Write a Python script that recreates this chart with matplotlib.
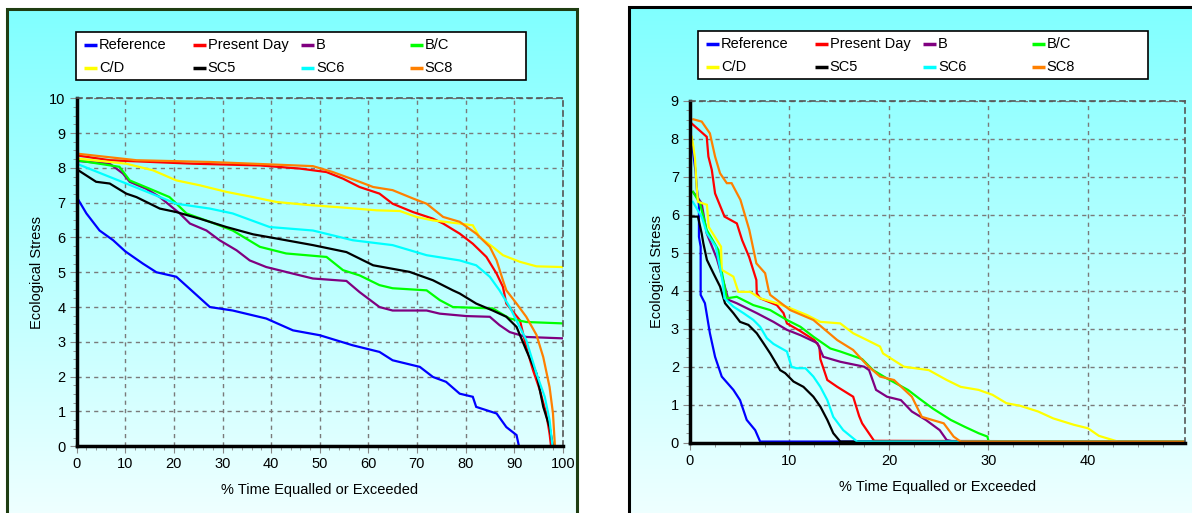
import numpy as np
import matplotlib
matplotlib.use("Agg")
import matplotlib.pyplot as plt
from matplotlib.colors import LinearSegmentedColormap
from matplotlib.patches import Rectangle
from matplotlib.lines import Line2D
from matplotlib.ticker import MultipleLocator

plt.rcParams['font.family'] = ['Liberation Sans', 'DejaVu Sans']

names = ['Reference', 'Present Day', 'B', 'B/C', 'C/D', 'SC5', 'SC6', 'SC8']
colors = ['#0000FF', '#FF0000', '#800080', '#00FF00', '#FFFF00', '#000000', '#00FFFF', '#FF8000']

# ---- left chart: full record (0-100 %)
ref_x = [0, 2, 4.7, 7.5, 10, 13.6, 16.4, 20.5, 23.6, 27.4, 32.1, 39, 44.5, 50, 56.8, 62.3, 65, 70.6, 73.3, 76, 78.8, 81.5, 82.2, 86.4, 88.4, 90.5, 91]
ref_y = [7.16, 6.69, 6.2, 5.92, 5.6, 5.25, 5.0, 4.87, 4.48, 4.0, 3.9, 3.67, 3.33, 3.19, 2.9, 2.71, 2.47, 2.28, 1.99, 1.85, 1.51, 1.42, 1.13, 0.94, 0.55, 0.32, 0]
pd_x = [0, 6.8, 23.9, 37.7, 45.9, 51.4, 54.8, 58.2, 62.3, 65, 69.2, 73.3, 75.4, 78.8, 81.5, 84.3, 86.4, 87.7, 88.4, 91.2, 92.5, 93.9, 95.3, 96.6, 97.3, 97.6]
pd_y = [8.36, 8.22, 8.12, 8.07, 7.98, 7.88, 7.69, 7.45, 7.26, 6.97, 6.73, 6.54, 6.4, 6.11, 5.82, 5.44, 4.96, 4.58, 4.1, 3.62, 2.85, 2.18, 1.61, 0.94, 0.36, 0]
b_x = [0, 6.8, 9.5, 10.9, 14.3, 17.1, 21.2, 23.3, 26.7, 29.4, 32.9, 35.6, 39, 44.5, 48.6, 55.5, 58.2, 62.3, 65, 72, 74.7, 80.2, 85, 87, 89.1, 92.5, 100]
b_y = [8.2, 8.12, 7.84, 7.6, 7.4, 7.16, 6.69, 6.4, 6.2, 5.92, 5.63, 5.34, 5.15, 4.96, 4.82, 4.75, 4.43, 4.0, 3.9, 3.9, 3.81, 3.74, 3.72, 3.48, 3.28, 3.14, 3.1]
bc_x = [0, 8.8, 10.9, 15.7, 19.1, 22.6, 27.4, 32.1, 37.7, 43.1, 51.4, 54.8, 58.2, 62.3, 65, 72, 74.7, 77.4, 85.6, 89.1, 92.5, 100]
bc_y = [8.22, 8.03, 7.64, 7.36, 7.16, 6.69, 6.45, 6.2, 5.73, 5.54, 5.44, 5.06, 4.91, 4.63, 4.54, 4.48, 4.2, 4.0, 3.96, 3.67, 3.57, 3.53]
cd_x = [0, 10.2, 15.7, 20.5, 25.3, 30.8, 36.3, 41.1, 47.9, 54.8, 61.7, 66.5, 69.9, 73.3, 78.8, 81.5, 82.9, 85.6, 87.7, 91.2, 94.6, 100]
cd_y = [8.27, 8.12, 7.93, 7.64, 7.5, 7.31, 7.16, 7.02, 6.93, 6.86, 6.78, 6.76, 6.59, 6.49, 6.4, 6.35, 6.01, 5.73, 5.49, 5.3, 5.17, 5.15]
sc5_x = [0, 4.0, 6.8, 10.2, 12.3, 17.1, 20.5, 25.3, 30.8, 36.3, 41.1, 48.6, 55.5, 61, 68.5, 73.3, 77.4, 78.8, 82.2, 85.6, 88.4, 90.5, 92.5, 94.6, 96, 97.3, 98]
sc5_y = [7.96, 7.6, 7.55, 7.26, 7.16, 6.83, 6.73, 6.54, 6.3, 6.09, 5.97, 5.78, 5.58, 5.2, 5.01, 4.77, 4.48, 4.39, 4.1, 3.9, 3.72, 3.43, 2.76, 2.09, 1.13, 0.55, 0]
sc6_x = [0, 6.8, 13.6, 20.5, 27.4, 32.1, 39.7, 48.6, 56.8, 65, 72, 78.8, 82.2, 85, 87, 89.1, 92.5, 94.6, 96.3, 97.3, 97.9]
sc6_y = [8.12, 7.74, 7.36, 6.97, 6.83, 6.69, 6.3, 6.2, 5.92, 5.78, 5.49, 5.34, 5.2, 4.87, 4.48, 4.0, 3.05, 2.09, 1.42, 0.75, 0]
sc8_x = [0, 12.3, 27.4, 48.6, 52.7, 58.2, 61, 65, 69.2, 72, 75.4, 78.8, 82.2, 85, 86.4, 87.7, 88.4, 90.5, 92.5, 94.6, 96, 97.3, 98, 98.4]
sc8_y = [8.41, 8.22, 8.17, 8.05, 7.88, 7.6, 7.45, 7.36, 7.12, 6.97, 6.59, 6.45, 6.11, 5.73, 5.34, 4.77, 4.48, 4.1, 3.72, 3.2, 2.56, 1.7, 0.94, 0]

# ---- right chart: zoom on 0-50 %
ref2_x = [0.2, 0.35, 0.56, 0.7, 0.9, 0.9, 1.07, 1.07, 1.5, 2.0, 2.52, 3.19, 4.36, 5.03, 5.7, 6.55, 7.05, 49.7]
ref2_y = [7.9, 7.57, 7.13, 6.65, 6.26, 5.42, 5.16, 3.89, 3.67, 2.88, 2.26, 1.74, 1.39, 1.12, 0.6, 0.33, 0.03, 0.03]
pd2_x = [0.17, 1.68, 1.85, 2.19, 2.52, 3.47, 4.71, 5.24, 5.94, 6.67, 6.71, 7.05, 8.73, 9.4, 9.74, 11.0, 12.5, 13.0, 13.1, 13.8, 14.8, 16.4, 17.0, 17.3, 18.5, 49.7]
pd2_y = [8.4, 8.05, 7.53, 7.18, 6.56, 5.95, 5.77, 5.33, 4.89, 4.28, 3.93, 3.8, 3.62, 3.41, 3.14, 2.95, 2.7, 2.53, 2.2, 1.65, 1.47, 1.21, 0.7, 0.51, 0.05, 0.03]
b2_x = [0.3, 0.9, 1.17, 1.68, 2.69, 3.3, 3.86, 4.7, 6.71, 8.39, 9.74, 11.1, 12.8, 13.4, 15.1, 17.5, 18.0, 18.7, 19.8, 21.2, 22.3, 23.7, 25.1, 25.8, 26.5, 49.7]
b2_y = [6.6, 6.4, 6.3, 5.51, 4.85, 4.3, 3.76, 3.67, 3.41, 3.18, 2.97, 2.83, 2.62, 2.26, 2.13, 2.0, 1.91, 1.39, 1.21, 1.12, 0.82, 0.6, 0.33, 0.07, 0.03, 0.03]
bc2_x = [0.3, 1.0, 1.68, 2.85, 3.19, 3.7, 4.7, 6.37, 8.06, 9.74, 11.1, 12.4, 14.1, 15.1, 17.3, 18.4, 19.8, 21.9, 23.0, 24.4, 26.2, 27.6, 29.0, 29.9, 30.0, 49.7]
bc2_y = [6.6, 6.3, 5.6, 5.07, 4.5, 3.8, 3.84, 3.62, 3.49, 3.23, 3.05, 2.79, 2.48, 2.4, 2.2, 1.91, 1.69, 1.39, 1.17, 0.9, 0.6, 0.42, 0.25, 0.16, 0.03, 0.03]
cd2_x = [0.17, 0.34, 0.5, 0.67, 0.8, 1.7, 1.88, 3.02, 3.12, 3.19, 4.36, 4.86, 6.04, 7.05, 8.73, 10.07, 11.75, 13.1, 15.1, 16.4, 17.8, 19.1, 19.4, 21.5, 24.0, 25.8, 27.2, 29.0, 30.4, 31.8, 33.2, 35.0, 36.5, 38.6, 40.0, 41.1, 43.0, 49.7]
cd2_y = [8.05, 7.79, 7.48, 6.74, 6.34, 6.26, 5.68, 5.2, 5.16, 4.55, 4.37, 3.97, 3.97, 3.8, 3.67, 3.54, 3.36, 3.18, 3.14, 2.88, 2.7, 2.53, 2.35, 2.0, 1.91, 1.65, 1.47, 1.39, 1.26, 1.04, 0.97, 0.82, 0.64, 0.47, 0.38, 0.18, 0.03, 0.03]
sc52_x = [0.2, 0.8, 1.17, 1.34, 1.7, 2.35, 3.02, 3.52, 4.36, 5.03, 5.87, 6.71, 7.38, 8.06, 9.06, 9.57, 10.4, 11.4, 12.4, 13.1, 13.8, 14.4, 15.1, 49.7]
sc52_y = [5.95, 5.95, 5.51, 5.25, 4.81, 4.46, 4.11, 3.67, 3.41, 3.18, 3.1, 2.88, 2.62, 2.35, 1.91, 1.83, 1.61, 1.47, 1.21, 0.95, 0.6, 0.25, 0.03, 0.03]
sc62_x = [0.28, 1.17, 1.7, 2.59, 3.02, 3.3, 3.47, 4.36, 5.37, 6.37, 7.05, 7.72, 8.39, 9.06, 9.74, 10.2, 10.7, 11.6, 12.4, 13.1, 13.8, 14.4, 15.4, 16.8, 49.7]
sc62_y = [6.34, 5.95, 5.51, 5.16, 4.6, 4.2, 3.8, 3.58, 3.41, 3.23, 3.05, 2.75, 2.6, 2.5, 2.4, 2.0, 1.96, 1.96, 1.74, 1.47, 1.12, 0.68, 0.33, 0.03, 0.03]
sc82_x = [0.34, 1.18, 2.0, 2.52, 3.02, 3.7, 4.18, 5.07, 5.96, 6.67, 7.55, 7.9, 8.06, 10.07, 12.4, 14.8, 16.4, 17.8, 19.1, 20.5, 22.3, 23.3, 25.5, 26.5, 27.2, 49.7]
sc82_y = [8.51, 8.45, 8.14, 7.53, 7.09, 6.83, 6.83, 6.39, 5.6, 4.72, 4.46, 4.02, 3.89, 3.49, 3.23, 2.7, 2.44, 2.04, 1.74, 1.65, 1.21, 0.68, 0.51, 0.16, 0.03, 0.03]

left_series = [(ref_x, ref_y), (pd_x, pd_y), (b_x, b_y), (bc_x, bc_y),
               (cd_x, cd_y), (sc5_x, sc5_y), (sc6_x, sc6_y), (sc8_x, sc8_y)]
right_series = [(ref2_x, ref2_y), (pd2_x, pd2_y), (b2_x, b2_y), (bc2_x, bc2_y),
                (cd2_x, cd2_y), (sc52_x, sc52_y), (sc62_x, sc62_y), (sc82_x, sc82_y)]

W, H = 1192, 513
fig = plt.figure(figsize=(W / 100, H / 100), dpi=100)
fig.patch.set_facecolor('white')

grad = LinearSegmentedColormap.from_list('bg', ['#F2FFFF', '#80FFFF'])


def px_rect(x0, y0, x1, y1):
    # pixel box (top-left origin) -> figure fraction [l, b, w, h]
    return [x0 / W, 1 - y1 / H, (x1 - x0) / W, (y1 - y0) / H]


def panel(box, edge):
    bg = fig.add_axes(px_rect(*box), zorder=0)
    bg.imshow(np.linspace(0, 1, 256).reshape(-1, 1)[::-1], aspect='auto',
              cmap=grad, extent=[0, 1, 0, 1])
    bg.set_axis_off()
    bg.add_patch(Rectangle((0, 0), 1, 1, transform=bg.transAxes, fill=False,
                           edgecolor=edge, linewidth=2.2, clip_on=False))


def legend_box(x0, y0):
    fig.add_artist(Rectangle((x0 / W, 1 - (y0 + 48) / H), 450 / W, 48 / H,
                             transform=fig.transFigure, facecolor='white',
                             edgecolor='black', linewidth=1.2, zorder=5))
    for i, (nm, c) in enumerate(zip(names, colors)):
        col, row = i % 4, i // 4
        hx = x0 + 8 + col * 108.5
        hy = y0 + 13 + row * 23
        fig.add_artist(Line2D([hx / W, (hx + 13) / W], [1 - hy / H, 1 - hy / H],
                              transform=fig.transFigure, color=c, linewidth=2.5,
                              solid_capstyle='butt', zorder=6))
        fig.text((hx + 15) / W, 1 - hy / H, nm, fontsize=10.5, va='center',
                 ha='left', zorder=6)


def chart(box, series, xmax, xmin_step, ymax, xlab_y, ylab_x):
    ax = fig.add_axes(px_rect(*box), zorder=2)
    ax.set_facecolor('none')
    for (xs, ys), c in zip(series, colors):
        ax.plot(xs, ys, color=c, linewidth=1.6, solid_joinstyle='miter')
    ax.set_xlim(0, xmax)
    ax.set_ylim(0, ymax)
    ax.xaxis.set_major_locator(MultipleLocator(10))
    ax.xaxis.set_minor_locator(MultipleLocator(xmin_step))
    ax.yaxis.set_major_locator(MultipleLocator(1))
    ax.yaxis.set_minor_locator(MultipleLocator(0.25))
    ax.grid(True, which='major', color='#7a7a7a', linestyle=(0, (3, 3)), linewidth=1)
    ax.tick_params(which='major', direction='out', length=5, color='#888888',
                   labelsize=10.5, pad=3)
    ax.tick_params(which='minor', direction='out', length=3, color='#888888')
    for s in ('left', 'bottom'):
        ax.spines[s].set_linewidth(2.5)
        ax.spines[s].set_color('black')
    for s in ('top', 'right'):
        ax.spines[s].set_linestyle((0, (3, 3)))
        ax.spines[s].set_color('#555555')
        ax.spines[s].set_linewidth(1.2)
    ax.set_xlabel('% Time Equalled or Exceeded', fontsize=10.5)
    ax.set_ylabel('Ecological Stress', fontsize=10.5)
    ax.xaxis.set_label_coords(0.5, xlab_y)
    ax.yaxis.set_label_coords(ylab_x, 0.5)
    return ax


panel((7, 9, 577, 530), '#1f3d12')
panel((629, 7, 1200, 530), '#000000')
legend_box(76, 32)
legend_box(698, 31)

chart((76.7, 98.3, 562.7, 446.2), left_series, 100, 2, 10, -0.105, -0.068)
chart((690, 100.7, 1185, 442.7), right_series, 49.75, 2.5, 9, -0.11, -0.052)

fig.savefig('out.png', dpi=100)
